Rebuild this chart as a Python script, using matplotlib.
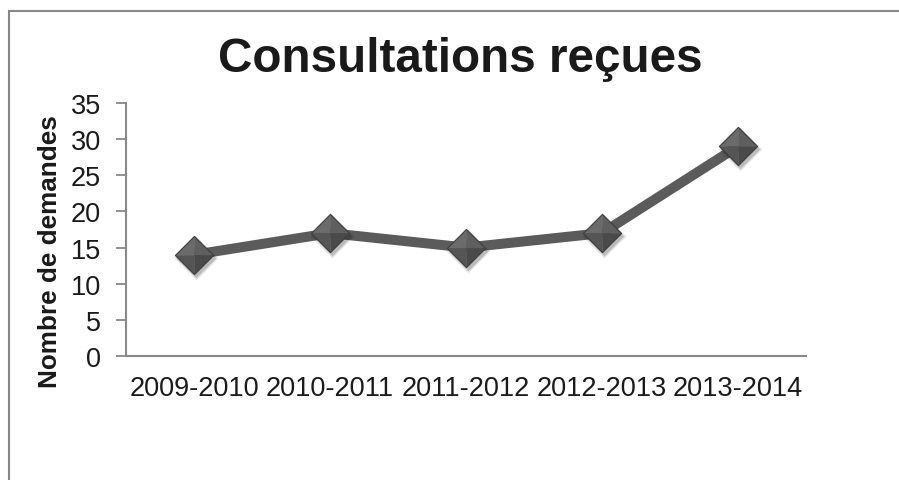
import matplotlib
matplotlib.use("Agg")
import matplotlib.pyplot as plt
from matplotlib.path import Path
from matplotlib.lines import Line2D
from matplotlib.transforms import offset_copy

plt.rcParams['font.family'] = ['Liberation Sans', 'DejaVu Sans']

# Data
seasons = ["2009-2010", "2010-2011", "2011-2012", "2012-2013", "2013-2014"]
requests = [14, 17, 15, 17, 29]
y_ticks = [0, 5, 10, 15, 20, 25, 30, 35]

title = "Consultations reçues"
y_label = "Nombre de demandes"

fig = plt.figure(figsize=(8.99, 4.81), dpi=100)
fig.patch.set_facecolor("white")

# Outer chart frame: left and top edges, continuing past the image border
fx, fy = 8.5 / 899, 1 - 12 / 481
fig.add_artist(Line2D([fx, fx, 1.05], [-0.05, fy, fy], transform=fig.transFigure,
                      color="#878787", linewidth=1.5, solid_joinstyle="miter"))

ax = fig.add_axes([126 / 899, 1 - 357 / 481, 680 / 899, 253 / 481])
x = list(range(len(seasons)))

# Connecting line
ax.plot(x, requests, color="#5b5b5b", linewidth=7.2, solid_capstyle="butt",
        zorder=2, clip_on=False)

# Pyramid-shaded diamond markers: soft shadow then four facets
ms = 27.5
shadow_tr = offset_copy(ax.transData, fig=fig, x=1.5, y=-3, units="dots")
diamond = Path([(0, 1), (1, 0), (0, -1), (-1, 0), (0, 1)], closed=True)
for a, c in [(0.10, ms + 4), (0.18, ms + 1)]:
    ax.plot(x, requests, linestyle="none", marker=diamond, markersize=c,
            markerfacecolor="black", markeredgecolor="none", alpha=a,
            transform=shadow_tr, zorder=3, clip_on=False)

facets = [
    ([(0, 0), (-1, 0), (0, 1), (0, 0)], "#6b6b6b"),
    ([(0, 0), (0, 1), (1, 0), (0, 0)], "#5f5f5f"),
    ([(0, 0), (1, 0), (0, -1), (0, 0)], "#4a4a4a"),
    ([(0, 0), (0, -1), (-1, 0), (0, 0)], "#555555"),
]
for verts, col in facets:
    ax.plot(x, requests, linestyle="none", marker=Path(verts, closed=True),
            markersize=ms, markerfacecolor=col, markeredgecolor=col,
            markeredgewidth=0.3, zorder=4, clip_on=False)
ax.plot(x, requests, linestyle="none", marker=diamond, markersize=ms,
        markerfacecolor="none", markeredgecolor="#3e3e3e",
        markeredgewidth=0.8, zorder=5, clip_on=False)

ax.set_xlim(-0.5, len(seasons) - 0.5)
ax.set_ylim(0, 35)
ax.set_yticks(y_ticks)
ax.set_xticks(x)
ax.set_xticklabels(seasons, fontsize=19.5, color="#1a1a1a")
ax.set_yticklabels([str(t) for t in y_ticks], fontsize=19.5, color="#1a1a1a")
ax.tick_params(axis="x", length=0, pad=14)
ax.tick_params(axis="y", length=7, width=1.3, color="#898989", pad=11)

for side in ("top", "right"):
    ax.spines[side].set_visible(False)
for side in ("left", "bottom"):
    ax.spines[side].set_color("#898989")
    ax.spines[side].set_linewidth(1.5)

fig.text(460 / 899, 1 - 59 / 481, title, ha="center", va="center",
         fontsize=34.3, fontweight="bold", color="#1a1a1a")
fig.text(50 / 899, 1 - 252 / 481, y_label, ha="center", va="center",
         rotation=90, fontsize=18.8, fontweight="bold", color="#1a1a1a")

fig.savefig("out.png", dpi=100, facecolor="white")
